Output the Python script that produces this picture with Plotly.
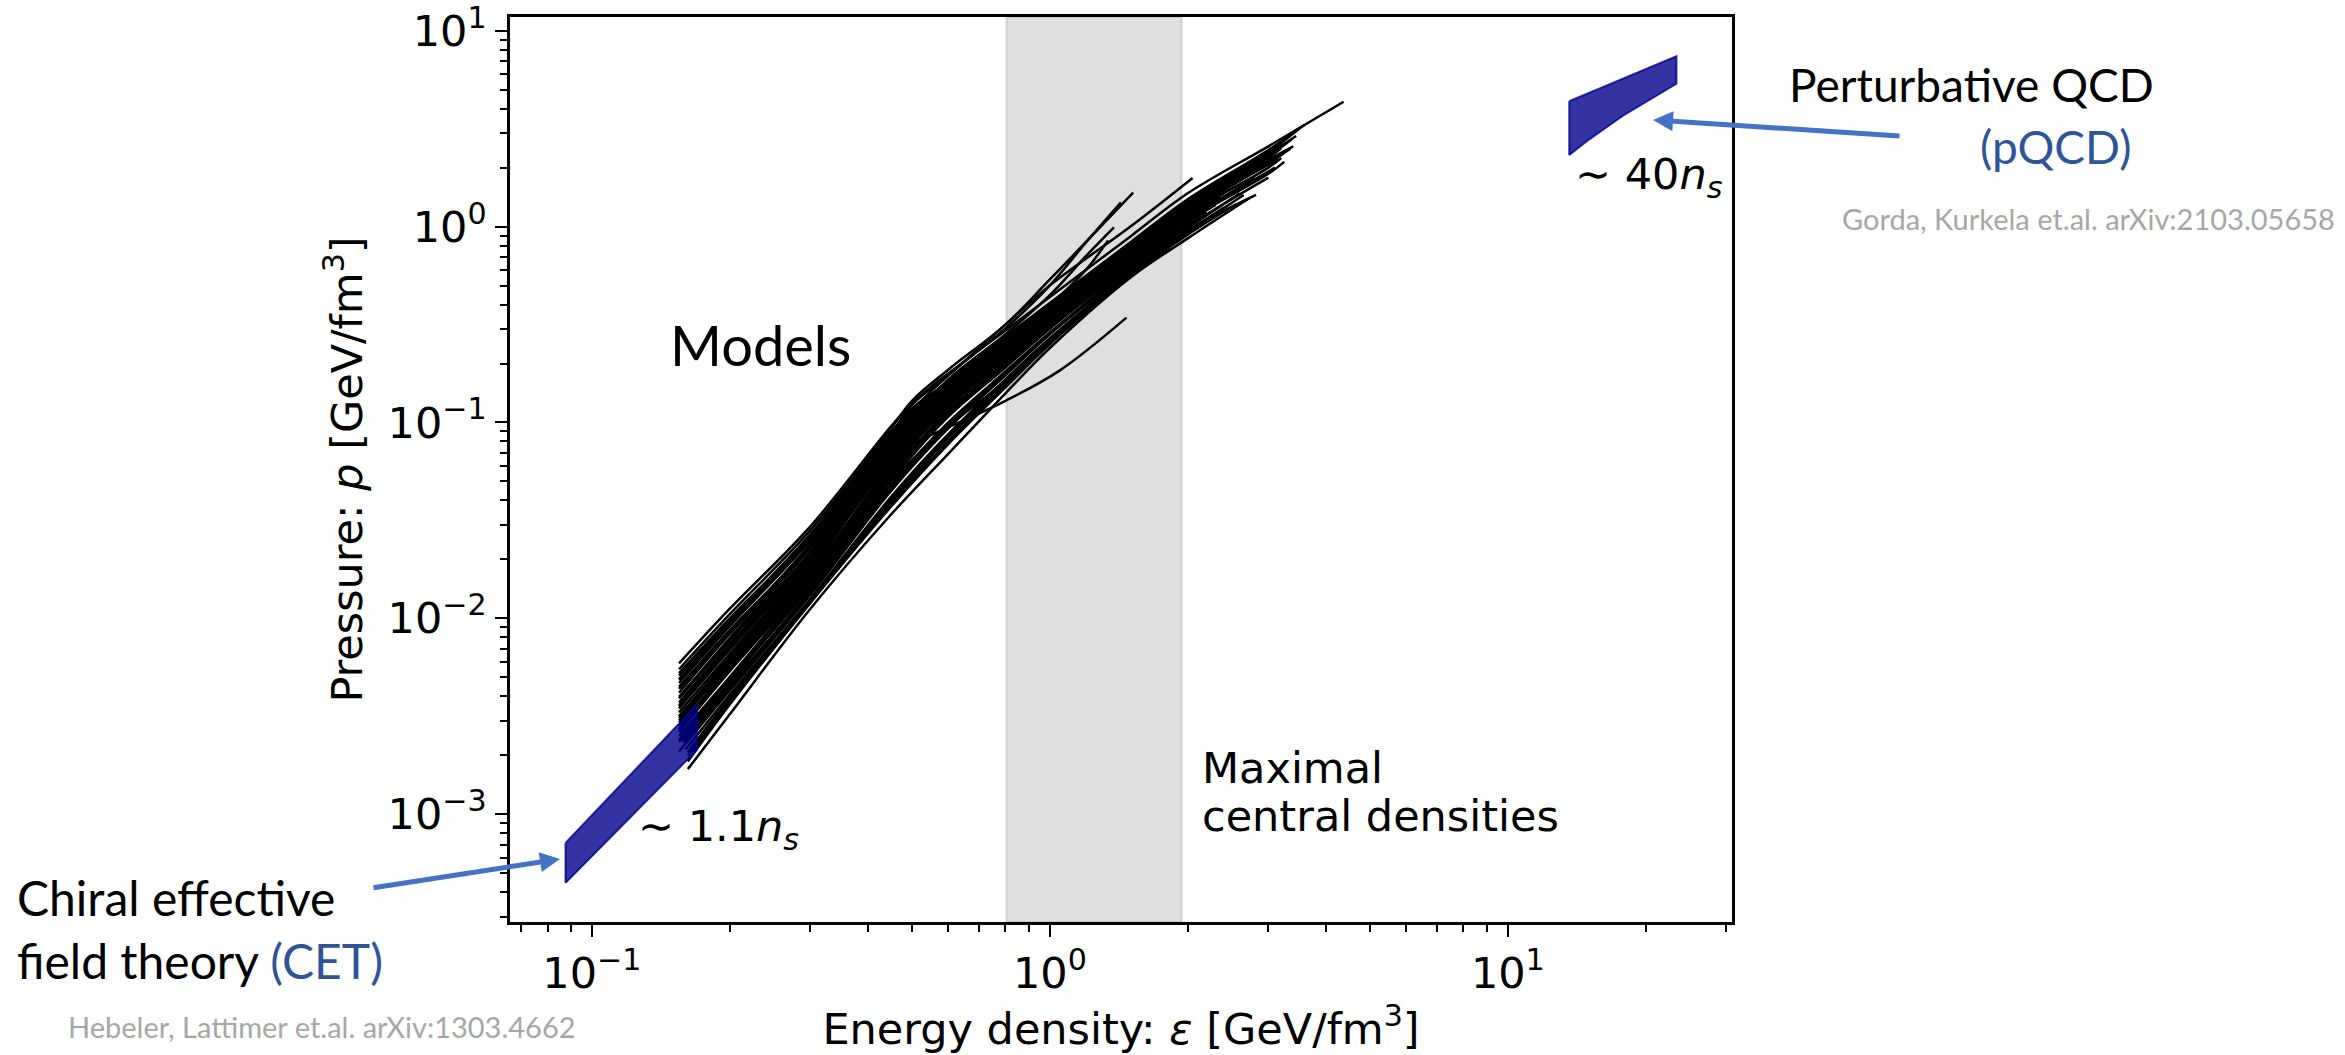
import plotly.graph_objects as go

# ---------------------------------------------------------------------------
# Equation-of-state models: energy density eps [GeV/fm^3] vs pressure p [GeV/fm^3]
# ---------------------------------------------------------------------------
eos01_eps = [0.155, 0.2, 0.3, 0.45, 0.5, 0.55, 0.6, 0.8, 1.0, 1.5, 2.0, 3.0, 4.38]
eos01_p = [0.00589, 0.0112, 0.0295, 0.0955, 0.125, 0.152, 0.178, 0.295, 0.437, 0.891, 1.48, 2.57, 4.34]
eos02_eps = [0.155, 0.2, 0.3, 0.45, 0.5, 0.6, 0.8, 1.0, 1.52]
eos02_p = [0.0055, 0.0105, 0.0282, 0.0933, 0.129, 0.186, 0.316, 0.537, 1.49]
eos03_eps = [0.16, 0.2, 0.3, 0.45, 0.6, 0.8, 1.0, 1.2, 1.43]
eos03_p = [0.00537, 0.00977, 0.0269, 0.0891, 0.174, 0.302, 0.501, 0.832, 1.33]
eos04_eps = [0.155, 0.2, 0.3, 0.45, 0.6, 0.8, 1.0, 1.2, 1.38]
eos04_p = [0.00468, 0.00912, 0.0251, 0.0832, 0.166, 0.282, 0.447, 0.708, 0.99]
eos05_eps = [0.155, 0.2, 0.3, 0.45, 0.5, 0.6, 0.8, 1.0, 1.5, 2.05]
eos05_p = [0.00437, 0.00851, 0.024, 0.0871, 0.123, 0.174, 0.316, 0.501, 1.0, 1.77]
eos06_eps = [0.158, 0.2, 0.3, 0.4, 0.5, 0.55, 0.6, 0.8, 1.0, 1.2, 1.34]
eos06_p = [0.00417, 0.00794, 0.0229, 0.0575, 0.1, 0.13, 0.152, 0.263, 0.398, 0.603, 0.851]
eos07_eps = [0.155, 0.2, 0.3, 0.45, 0.5, 0.6, 0.8, 1.0, 1.5, 2.0, 3.0, 3.51]
eos07_p = [0.00525, 0.01, 0.0263, 0.0851, 0.115, 0.158, 0.269, 0.398, 0.813, 1.35, 2.4, 3.18]
eos08_eps = [0.155, 0.2, 0.3, 0.42, 0.47, 0.6, 0.8, 1.0, 1.5, 2.0, 3.0, 3.37]
eos08_p = [0.00417, 0.00832, 0.0229, 0.0651, 0.0912, 0.151, 0.263, 0.389, 0.794, 1.32, 2.29, 2.78]
eos09_eps = [0.155, 0.2, 0.3, 0.45, 0.6, 0.8, 1.0, 1.5, 2.0, 2.93]
eos09_p = [0.00372, 0.00741, 0.0209, 0.0741, 0.148, 0.251, 0.38, 0.776, 1.29, 2.21]
eos10_eps = [0.155, 0.2, 0.3, 0.45, 0.6, 0.8, 1.0, 1.5, 2.0, 3.05]
eos10_p = [0.00347, 0.00692, 0.02, 0.0708, 0.141, 0.24, 0.363, 0.741, 1.23, 2.12]
eos11_eps = [0.155, 0.2, 0.3, 0.45, 0.6, 0.8, 1.0, 1.5, 2.0, 3.0, 3.3]
eos11_p = [0.00316, 0.00631, 0.0186, 0.0676, 0.138, 0.234, 0.355, 0.724, 1.2, 2.14, 2.46]
eos12_eps = [0.155, 0.2, 0.3, 0.45, 0.6, 0.8, 1.0, 1.5, 2.0, 2.6]
eos12_p = [0.00302, 0.00603, 0.0178, 0.0646, 0.132, 0.224, 0.339, 0.708, 1.18, 1.74]
eos13_eps = [0.155, 0.2, 0.3, 0.45, 0.6, 0.8, 1.0, 1.5, 2.0, 3.0, 3.2]
eos13_p = [0.00282, 0.00562, 0.0166, 0.0603, 0.126, 0.219, 0.331, 0.692, 1.15, 2.0, 2.24]
eos14_eps = [0.155, 0.2, 0.3, 0.45, 0.6, 0.8, 1.0, 1.5, 2.0, 2.4]
eos14_p = [0.00263, 0.00537, 0.0159, 0.0575, 0.12, 0.209, 0.324, 0.676, 1.12, 1.48]
eos15_eps = [0.155, 0.2, 0.3, 0.45, 0.6, 0.8, 1.0, 1.5, 2.0, 3.0, 3.1]
eos15_p = [0.00251, 0.00501, 0.0151, 0.055, 0.115, 0.204, 0.316, 0.661, 1.1, 1.91, 2.0]
eos16_eps = [0.155, 0.2, 0.3, 0.45, 0.6, 0.8, 1.0, 1.5, 2.0, 2.8]
eos16_p = [0.00234, 0.00479, 0.0145, 0.0525, 0.112, 0.2, 0.309, 0.646, 1.07, 1.78]
eos17_eps = [0.158, 0.2, 0.3, 0.45, 0.6, 0.8, 1.0, 1.5, 2.0, 2.2]
eos17_p = [0.0024, 0.00457, 0.0138, 0.0479, 0.1, 0.182, 0.288, 0.617, 1.02, 1.18]
eos18_eps = [0.16, 0.2, 0.3, 0.45, 0.6, 0.8, 1.0, 1.5, 2.0, 3.0]
eos18_p = [0.00229, 0.00427, 0.0132, 0.0447, 0.0933, 0.174, 0.282, 0.603, 1.0, 1.78]
eos19_eps = [0.16, 0.2, 0.3, 0.45, 0.6, 0.8, 1.0, 1.5, 2.0, 2.82]
eos19_p = [0.00214, 0.00407, 0.0126, 0.0417, 0.0871, 0.166, 0.269, 0.589, 0.955, 1.45]
eos20_eps = [0.162, 0.2, 0.3, 0.45, 0.6, 0.8, 1.0, 1.5, 2.0, 2.65]
eos20_p = [0.002, 0.0038, 0.0123, 0.0398, 0.0832, 0.158, 0.263, 0.575, 0.933, 1.45]
eos21_eps = [0.162, 0.2, 0.3, 0.45, 0.6, 0.8, 1.0, 1.5, 1.84]
eos21_p = [0.00186, 0.00363, 0.012, 0.0372, 0.0776, 0.151, 0.251, 0.562, 0.767]
eos22_eps = [0.162, 0.2, 0.3, 0.45, 0.6, 0.8, 1.0, 1.5, 2.0, 2.73]
eos22_p = [0.0017, 0.00324, 0.0112, 0.0339, 0.0692, 0.141, 0.24, 0.55, 0.871, 1.4]
eos23_eps = [0.155, 0.2, 0.3, 0.45, 0.5, 0.6, 0.8, 1.05, 1.47]
eos23_p = [0.00316, 0.00617, 0.019, 0.0661, 0.0776, 0.0944, 0.129, 0.184, 0.343]
eos24_eps = [0.155, 0.2, 0.3, 0.45, 0.52, 0.6, 0.8, 1.0, 1.5, 2.0, 3.0, 3.6]
eos24_p = [0.00447, 0.00871, 0.0234, 0.0813, 0.122, 0.162, 0.275, 0.407, 0.832, 1.38, 2.46, 3.31]
eos25_eps = [0.155, 0.2, 0.3, 0.45, 0.6, 0.8, 1.0, 1.5, 2.0, 2.7]
eos25_p = [0.00355, 0.00708, 0.0204, 0.0759, 0.155, 0.263, 0.398, 0.813, 1.35, 2.09]
eos26_eps = [0.155, 0.2, 0.3, 0.45, 0.6, 0.8, 1.0, 1.5, 2.0, 3.0, 3.3]
eos26_p = [0.00331, 0.00661, 0.0195, 0.0724, 0.151, 0.257, 0.389, 0.794, 1.32, 2.34, 2.69]
eos27_eps = [0.155, 0.2, 0.3, 0.45, 0.6, 0.8, 1.0, 1.5, 2.0, 2.5]
eos27_p = [0.00295, 0.00589, 0.0174, 0.0692, 0.145, 0.246, 0.372, 0.759, 1.26, 1.74]
eos28_eps = [0.155, 0.2, 0.3, 0.45, 0.6, 0.8, 1.0, 1.5, 2.0, 3.0, 3.4]
eos28_p = [0.00269, 0.0055, 0.0162, 0.0631, 0.135, 0.234, 0.355, 0.741, 1.23, 2.19, 2.57]
eos29_eps = [0.155, 0.2, 0.3, 0.45, 0.6, 0.8, 1.0, 1.5, 2.0, 2.9]
eos29_p = [0.0024, 0.0049, 0.0148, 0.0589, 0.129, 0.229, 0.347, 0.724, 1.2, 2.0]
eos30_eps = [0.158, 0.2, 0.3, 0.45, 0.6, 0.8, 1.0, 1.5, 1.9]
eos30_p = [0.00234, 0.00447, 0.0141, 0.0562, 0.123, 0.219, 0.339, 0.708, 1.0]
eos31_eps = [0.155, 0.2, 0.3, 0.4, 0.48, 0.6, 0.8, 1.0, 1.5, 2.0, 3.0, 3.2]
eos31_p = [0.00398, 0.00776, 0.0219, 0.0562, 0.0933, 0.145, 0.24, 0.363, 0.759, 1.26, 2.24, 2.51]
eos32_eps = [0.16, 0.2, 0.3, 0.45, 0.6, 0.8, 1.0, 1.5, 2.0, 2.3]
eos32_p = [0.00263, 0.00468, 0.0135, 0.0501, 0.107, 0.191, 0.302, 0.631, 1.05, 1.29]
eos33_eps = [0.165, 0.2, 0.3, 0.45, 0.6, 0.8, 1.0, 1.5, 2.0, 3.0, 3.25]
eos33_p = [0.00282, 0.00501, 0.0155, 0.0537, 0.11, 0.195, 0.302, 0.646, 1.07, 1.86, 2.14]
eos34_eps = [0.155, 0.2, 0.3, 0.45, 0.6, 0.8, 1.0, 1.5, 2.0, 2.45]
eos34_p = [0.0049, 0.00955, 0.0257, 0.0871, 0.162, 0.269, 0.389, 0.776, 1.29, 1.74]
eos35_eps = [0.16, 0.2, 0.3, 0.45, 0.6, 0.8, 1.0, 1.5, 2.0, 2.6]
eos35_p = [0.00331, 0.00575, 0.0159, 0.0501, 0.0955, 0.162, 0.263, 0.589, 0.977, 1.48]
eos36_eps = [0.155, 0.2, 0.3, 0.45, 0.6, 0.8, 1.0, 1.5, 2.0, 2.75]
eos36_p = [0.00209, 0.00437, 0.0138, 0.0513, 0.118, 0.214, 0.331, 0.692, 1.15, 1.86]
eos37_eps = [0.155, 0.2, 0.3, 0.45, 0.6, 0.8, 1.0, 1.5, 2.0, 2.9]
eos37_p = [0.00485, 0.0093, 0.025, 0.083, 0.16, 0.272, 0.402, 0.82, 1.36, 2.3]
eos38_eps = [0.155, 0.2, 0.3, 0.45, 0.6, 0.8, 1.0, 1.5, 2.0, 2.55]
eos38_p = [0.0036, 0.0072, 0.0204, 0.0725, 0.145, 0.245, 0.372, 0.76, 1.26, 1.8]
eos39_eps = [0.158, 0.2, 0.3, 0.45, 0.6, 0.8, 1.0, 1.5, 2.0, 3.0, 3.15]
eos39_p = [0.0032, 0.0062, 0.0182, 0.066, 0.135, 0.229, 0.347, 0.716, 1.19, 2.07, 2.2]
eos40_eps = [0.155, 0.2, 0.3, 0.45, 0.6, 0.8, 1.0, 1.5, 2.0, 2.35]
eos40_p = [0.0027, 0.0055, 0.0162, 0.059, 0.123, 0.214, 0.328, 0.684, 1.13, 1.42]
eos41_eps = [0.16, 0.2, 0.3, 0.45, 0.6, 0.8, 1.0, 1.5, 2.0, 2.95]
eos41_p = [0.0026, 0.0049, 0.0148, 0.0538, 0.113, 0.202, 0.312, 0.653, 1.08, 1.85]
eos42_eps = [0.16, 0.2, 0.3, 0.45, 0.6, 0.8, 1.0, 1.5, 1.75]
eos42_p = [0.00235, 0.0044, 0.0135, 0.0462, 0.0966, 0.178, 0.285, 0.61, 0.8]
eos43_eps = [0.162, 0.2, 0.3, 0.45, 0.6, 0.8, 1.0, 1.5, 2.0, 2.4]
eos43_p = [0.00207, 0.00393, 0.0124, 0.0407, 0.085, 0.162, 0.266, 0.582, 0.944, 1.25]
eos44_eps = [0.155, 0.2, 0.3, 0.42, 0.5, 0.6, 0.8, 1.0, 1.5, 2.0, 3.0, 3.45]
eos44_p = [0.0051, 0.0097, 0.026, 0.072, 0.118, 0.16, 0.266, 0.394, 0.805, 1.34, 2.35, 2.9]
eos45_eps = [0.155, 0.2, 0.3, 0.45, 0.6, 0.8, 1.0, 1.5, 2.0, 2.65]
eos45_p = [0.0039, 0.0077, 0.0215, 0.0775, 0.152, 0.26, 0.393, 0.8, 1.33, 2.0]
eos46_eps = [0.158, 0.2, 0.3, 0.45, 0.6, 0.8, 1.0, 1.5, 2.0, 3.0, 3.35]
eos46_p = [0.0029, 0.0057, 0.017, 0.0615, 0.13, 0.226, 0.343, 0.71, 1.19, 2.1, 2.5]
eos47_eps = [0.162, 0.2, 0.3, 0.45, 0.6, 0.8, 1.0, 1.5, 2.0, 2.55]
eos47_p = [0.0019, 0.0037, 0.0121, 0.0385, 0.08, 0.154, 0.256, 0.568, 0.91, 1.3]
eos48_eps = [0.155, 0.2, 0.3, 0.45, 0.6, 0.8, 1.0, 1.5, 2.0, 2.85]
eos48_p = [0.0031, 0.0064, 0.0189, 0.0685, 0.14, 0.238, 0.36, 0.735, 1.22, 2.05]

models = [
    (eos01_eps, eos01_p), (eos02_eps, eos02_p), (eos03_eps, eos03_p), (eos04_eps, eos04_p),
    (eos05_eps, eos05_p), (eos06_eps, eos06_p), (eos07_eps, eos07_p), (eos08_eps, eos08_p),
    (eos09_eps, eos09_p), (eos10_eps, eos10_p), (eos11_eps, eos11_p), (eos12_eps, eos12_p),
    (eos13_eps, eos13_p), (eos14_eps, eos14_p), (eos15_eps, eos15_p), (eos16_eps, eos16_p),
    (eos17_eps, eos17_p), (eos18_eps, eos18_p), (eos19_eps, eos19_p), (eos20_eps, eos20_p),
    (eos21_eps, eos21_p), (eos22_eps, eos22_p), (eos23_eps, eos23_p), (eos24_eps, eos24_p),
    (eos25_eps, eos25_p), (eos26_eps, eos26_p), (eos27_eps, eos27_p), (eos28_eps, eos28_p),
    (eos29_eps, eos29_p), (eos30_eps, eos30_p), (eos31_eps, eos31_p), (eos32_eps, eos32_p),
    (eos33_eps, eos33_p), (eos34_eps, eos34_p), (eos35_eps, eos35_p), (eos36_eps, eos36_p),
    (eos37_eps, eos37_p), (eos38_eps, eos38_p), (eos39_eps, eos39_p), (eos40_eps, eos40_p),
    (eos41_eps, eos41_p), (eos42_eps, eos42_p), (eos43_eps, eos43_p), (eos44_eps, eos44_p),
    (eos45_eps, eos45_p), (eos46_eps, eos46_p), (eos47_eps, eos47_p), (eos48_eps, eos48_p),
]

# Chiral EFT band up to ~1.1 n_s
cet_eps = [0.0876, 0.1696]
cet_p_upper = [7.14e-4, 3.62e-3]
cet_p_lower = [4.47e-4, 2.13e-3]

# Perturbative QCD band at ~40 n_s
pqcd_eps_upper = [13.62, 23.34]
pqcd_p_upper = [4.37, 7.41]
pqcd_eps_lower = [13.62, 15.06, 17.8, 21.04, 23.34]
pqcd_p_lower = [2.32, 2.79, 3.67, 4.64, 5.36]

# Range of maximal central energy densities
central_eps_range = [0.804, 1.94]

# Axis ticks
x_major = [0.1, 1, 10]
x_major_text = ["10<sup>−1</sup>", "10<sup>0</sup>", "10<sup>1</sup>"]
y_major = [1e-3, 1e-2, 1e-1, 1, 10]
y_major_text = ["10<sup>−3</sup>", "10<sup>−2</sup>", "10<sup>−1</sup>", "10<sup>0</sup>", "10<sup>1</sup>"]
x_minor = [0.07, 0.08, 0.09, 0.2, 0.3, 0.4, 0.5, 0.6, 0.7, 0.8, 0.9,
           2, 3, 4, 5, 6, 7, 8, 9, 20, 30]
y_minor = [3e-4, 4e-4, 5e-4, 6e-4, 7e-4, 8e-4, 9e-4,
           2e-3, 3e-3, 4e-3, 5e-3, 6e-3, 7e-3, 8e-3, 9e-3,
           0.02, 0.03, 0.04, 0.05, 0.06, 0.07, 0.08, 0.09,
           0.2, 0.3, 0.4, 0.5, 0.6, 0.7, 0.8, 0.9,
           2, 3, 4, 5, 6, 7, 8, 9]

PLOT_FONT = "DejaVu Sans"
SLIDE_FONT = "Lato"
BAND_FILL = "rgba(0,0,139,0.8)"
ARROW_BLUE = "#4472C4"
TEXT_BLUE = "#2F5597"
NOTE_GREY = "#A6A6A6"

fig = go.Figure()

for eps, p in models:
    fig.add_trace(go.Scatter(
        x=eps, y=p, mode="lines",
        line=dict(color="black", width=2.5, shape="spline", smoothing=1.0),
        hoverinfo="skip",
    ))

fig.add_trace(go.Scatter(
    x=cet_eps + cet_eps[::-1] + cet_eps[:1],
    y=cet_p_upper + cet_p_lower[::-1] + cet_p_upper[:1],
    mode="lines", fill="toself", fillcolor=BAND_FILL,
    line=dict(color=BAND_FILL, width=2), hoverinfo="skip",
))
fig.add_trace(go.Scatter(
    x=pqcd_eps_upper + pqcd_eps_lower[::-1] + pqcd_eps_upper[:1],
    y=pqcd_p_upper + pqcd_p_lower[::-1] + pqcd_p_upper[:1],
    mode="lines", fill="toself", fillcolor=BAND_FILL,
    line=dict(color=BAND_FILL, width=2), hoverinfo="skip",
))

fig.add_shape(
    type="rect", xref="x", yref="paper",
    x0=central_eps_range[0], x1=central_eps_range[1], y0=0, y1=1,
    fillcolor="rgba(128,128,128,0.25)",
    line=dict(color="rgba(128,128,128,0.25)", width=2),
    layer="below",
)

axis_common = dict(
    type="log", showline=True, linecolor="black", linewidth=2.5, mirror=True,
    ticks="outside", ticklen=12, tickwidth=2, tickcolor="black",
    tickmode="array", showgrid=False, zeroline=False, automargin=False,
    ticklabeloverflow="allow",
    tickfont=dict(family=PLOT_FONT, size=43, color="black"),
)

fig.update_xaxes(
    **axis_common, range=[-1.1788, 1.4895],
    tickvals=x_major, ticktext=x_major_text,
    minor=dict(tickmode="array", tickvals=x_minor, ticks="outside",
               ticklen=7, tickwidth=1.5, tickcolor="black", showgrid=False),
    title=dict(text="Energy density: <i>ε</i> [GeV/fm<sup>3</sup>]",
               font=dict(family=PLOT_FONT, size=43, color="black"), standoff=8),
)
fig.update_yaxes(
    **axis_common, range=[-3.55, 1.07],
    tickvals=y_major, ticktext=y_major_text,
    minor=dict(tickmode="array", tickvals=y_minor, ticks="outside",
               ticklen=7, tickwidth=1.5, tickcolor="black", showgrid=False),
    title=dict(text="Pressure: <i>p</i> [GeV/fm<sup>3</sup>]",
               font=dict(family=PLOT_FONT, size=43, color="black"), standoff=12),
)

def note(text, x, y, font, size, color="black"):
    fig.add_annotation(
        text=text, x=x, y=y, xref="paper", yref="paper",
        xanchor="left", yanchor="middle", showarrow=False,
        font=dict(family=font, size=size, color=color),
    )

# labels inside the axes
note("Models", 0.1293, 0.6376, SLIDE_FONT, 56)
note("Maximal", 0.5646, 0.1702, PLOT_FONT, 43)
note("central densities", 0.5646, 0.1171, PLOT_FONT, 43)
note("∼ 1.1<i>n<sub>s</sub></i>", 0.1035, 0.1028, PLOT_FONT, 43)
note("∼ 40<i>n<sub>s</sub></i>", 0.8699, 0.8235, PLOT_FONT, 43)

# labels outside the axes
note("Perturbative QCD", 1.045, 0.9249, SLIDE_FONT, 46)
note("(pQCD)", 1.2013, 0.857, SLIDE_FONT, 46, TEXT_BLUE)
note("Gorda, Kurkela et.al. arXiv:2103.05658", 1.088, 0.7768, SLIDE_FONT, 29, NOTE_GREY)
note("Chiral effective", -0.4054, 0.0271, SLIDE_FONT, 48)
note("field theory <span style='color:%s'>(CET)</span>" % TEXT_BLUE, -0.4054, -0.043, SLIDE_FONT, 48)
note("Hebeler, Lattimer et.al. arXiv:1303.4662", -0.3637, -0.116, SLIDE_FONT, 29, NOTE_GREY)

# pointer arrows
for hx, hy, ax, ay in [(0.0409, 0.0696, -188, 29), (0.9354, 0.8862, 248, 16)]:
    fig.add_annotation(
        x=hx, y=hy, xref="paper", yref="paper", ax=ax, ay=ay,
        text="", showarrow=True, arrowhead=2, arrowsize=0.8, arrowwidth=5,
        arrowcolor=ARROW_BLUE, standoff=0,
    )

fig.update_layout(
    width=2345, height=1055,
    margin=dict(l=510, r=613, t=17, b=133),
    paper_bgcolor="white", plot_bgcolor="white",
    showlegend=False,
)

fig.write_html("out.html")
